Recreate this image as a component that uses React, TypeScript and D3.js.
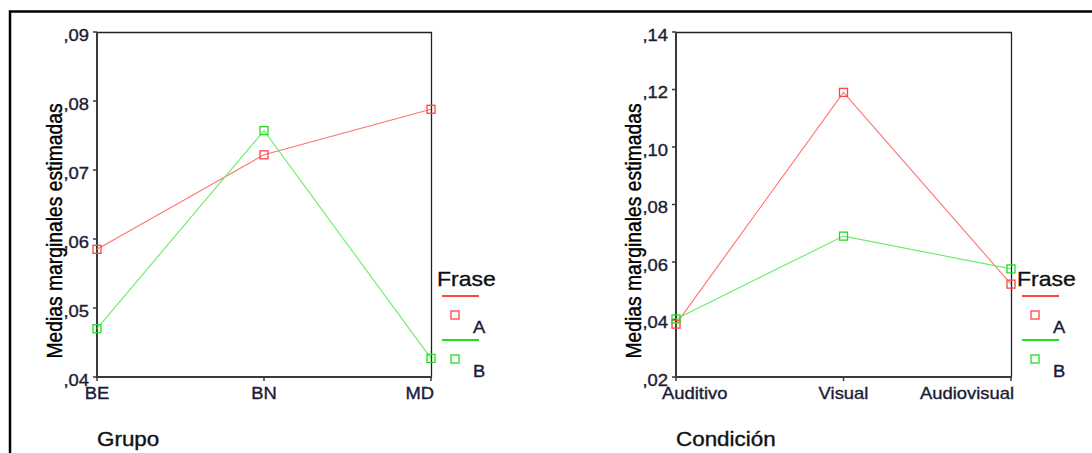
import React, { useEffect, useRef } from "react";
import * as d3 from "d3";

// Estimated marginal means, panel 1: by group
const grupoCategories = ["BE", "BN", "MD"];
const grupoFraseA = [0.0585, 0.0722, 0.0788];
const grupoFraseB = [0.047, 0.0757, 0.0427];
const grupoTicks = [0.04, 0.05, 0.06, 0.07, 0.08, 0.09];

// Estimated marginal means, panel 2: by condition
const condicionCategories = ["Auditivo", "Visual", "Audiovisual"];
const condicionFraseA = [0.0384, 0.119, 0.0523];
const condicionFraseB = [0.0402, 0.069, 0.0576];
const condicionTicks = [0.02, 0.04, 0.06, 0.08, 0.1, 0.12, 0.14];

const seriesNames = ["A", "B"];

const W = 1092;
const H = 453;
const FONT = "'Liberation Sans', Arial, Helvetica, sans-serif";
const STRETCH = 1.15;
const TEXT_COLOR = "#1c1c36";

const LINE_COLORS = ["#ff7272", "#66ee66"];
const MARK_COLORS = ["#ff4444", "#22dd22"];

interface PanelSpec {
  left: number;
  right: number;
  top: number;
  bottom: number;
  categories: string[];
  series: number[][];
  ticks: number[];
  xTitle: string;
}

const panels: PanelSpec[] = [
  {
    left: 97,
    right: 431,
    top: 32,
    bottom: 377,
    categories: grupoCategories,
    series: [grupoFraseA, grupoFraseB],
    ticks: grupoTicks,
    xTitle: "Grupo",
  },
  {
    left: 676,
    right: 1011,
    top: 32,
    bottom: 377,
    categories: condicionCategories,
    series: [condicionFraseA, condicionFraseB],
    ticks: condicionTicks,
    xTitle: "Condición",
  },
];

// SPSS-style tick text: ",09"
const fmtTick = (v: number) => d3.format(".2f")(v).replace(/^0/, "").replace(".", ",");

type Sel = d3.Selection<SVGGElement, unknown, null, undefined>;

function label(g: Sel, text: string, size: number, color: string, transform: string, anchor = "start") {
  return g
    .append("text")
    .attr("transform", transform)
    .attr("text-anchor", anchor)
    .attr("font-family", FONT)
    .attr("font-size", size)
    .attr("fill", color)
    .attr("stroke", color)
    .attr("stroke-width", 0.35)
    .text(text);
}

function drawPanel(root: Sel, p: PanelSpec) {
  const g = root.append("g");
  const extent = d3.extent(p.ticks) as [number, number];
  const y = d3.scaleLinear().domain(extent).range([p.bottom, p.top]);
  const x = d3.scalePoint<string>().domain(p.categories).range([p.left, p.right]);

  // frame: top and right edges
  g.append("path")
    .attr("d", `M${p.left},${p.top + 0.5}H${p.right + 0.5}V${p.bottom}`)
    .attr("fill", "none")
    .attr("stroke", "#222")
    .attr("stroke-width", 1.3);

  // axes
  g.append("path")
    .attr("d", `M${p.left},${p.top}V${p.bottom}H${p.right + 1}`)
    .attr("fill", "none")
    .attr("stroke", "#3a3a3a")
    .attr("stroke-width", 2);

  // y ticks and labels
  p.ticks.forEach((t) => {
    const yy = y(t);
    g.append("line")
      .attr("x1", p.left - 4)
      .attr("x2", p.left)
      .attr("y1", yy)
      .attr("y2", yy)
      .attr("stroke", "#3a3a3a")
      .attr("stroke-width", 1.5);
    label(g, fmtTick(t), 16, TEXT_COLOR, `translate(${p.left - 8},${yy + 8.8}) scale(${STRETCH},1)`, "end");
  });

  // x ticks and category labels (kept inside the panel's reach)
  p.categories.forEach((c) => {
    const xx = x(c)!;
    g.append("line")
      .attr("x1", xx)
      .attr("x2", xx)
      .attr("y1", p.bottom)
      .attr("y2", p.bottom + 4)
      .attr("stroke", "#3a3a3a")
      .attr("stroke-width", 1.5);
    const t = label(g, c, 16, TEXT_COLOR, "", "middle");
    const w = (t.node() as SVGTextElement).getComputedTextLength() * STRETCH;
    let cx = xx;
    const minL = p.left - 14;
    const maxR = p.right + 3;
    if (cx - w / 2 < minL) cx = minL + w / 2;
    if (cx + w / 2 > maxR) cx = maxR - w / 2;
    t.attr("transform", `translate(${cx},${p.bottom + 22}) scale(${STRETCH},1)`);
  });

  // axis titles
  label(g, p.xTitle, 19.5, "#111", `translate(${p.left},${p.bottom + 69}) scale(${STRETCH},1)`);
  label(
    g,
    "Medias marginales estimadas",
    19.3,
    "#000",
    `translate(${p.left - 35},231) scale(${STRETCH},1) rotate(-90)`,
    "middle"
  );

  // series lines and markers
  const line = d3
    .line<number>()
    .x((_, i) => x(p.categories[i])!)
    .y((v) => y(v));

  p.series.forEach((vals, si) => {
    g.append("path")
      .attr("d", line(vals) || "")
      .attr("fill", "none")
      .attr("stroke", LINE_COLORS[si])
      .attr("stroke-width", 1.1);
  });
  p.series.forEach((vals, si) => {
    vals.forEach((v, i) => {
      g.append("rect")
        .attr("x", x(p.categories[i])! - 4)
        .attr("y", y(v) - 4)
        .attr("width", 8)
        .attr("height", 8)
        .attr("fill", "none")
        .attr("stroke", MARK_COLORS[si])
        .attr("stroke-width", 1.3);
    });
  });

  // legend
  const lg = g.append("g").attr("transform", `translate(${p.right},0)`);
  label(lg, "Frase", 20, "#111", `translate(6,286) scale(${STRETCH},1)`);
  seriesNames.forEach((name, si) => {
    const base = 296 + si * 44;
    lg.append("line")
      .attr("x1", 11)
      .attr("x2", 48)
      .attr("y1", base)
      .attr("y2", base)
      .attr("stroke", MARK_COLORS[si])
      .attr("stroke-width", 1.8);
    lg.append("rect")
      .attr("x", 20)
      .attr("y", base + 15)
      .attr("width", 8)
      .attr("height", 8)
      .attr("fill", "none")
      .attr("stroke", MARK_COLORS[si])
      .attr("stroke-width", 1.3);
    label(lg, name, 16, TEXT_COLOR, `translate(42,${base + 37}) scale(${STRETCH},1)`);
  });
}

export default function App() {
  const ref = useRef<SVGSVGElement>(null);

  useEffect(() => {
    if (!ref.current) return;
    const svg = d3.select(ref.current);
    svg.selectAll("*").remove();
    const root = svg.append("g") as unknown as Sel;

    root.append("rect").attr("width", W).attr("height", H).attr("fill", "#fff");

    // outer frame (top and left edges)
    root
      .append("path")
      .attr("d", `M10,${H}V11.5H${W}`)
      .attr("fill", "none")
      .attr("stroke", "#000")
      .attr("stroke-width", 2.5);

    panels.forEach((p) => drawPanel(root, p));
  }, []);

  return (
    <svg
      ref={ref}
      width={W}
      height={H}
      style={{ position: "absolute", left: 0, top: 0, display: "block" }}
    />
  );
}
